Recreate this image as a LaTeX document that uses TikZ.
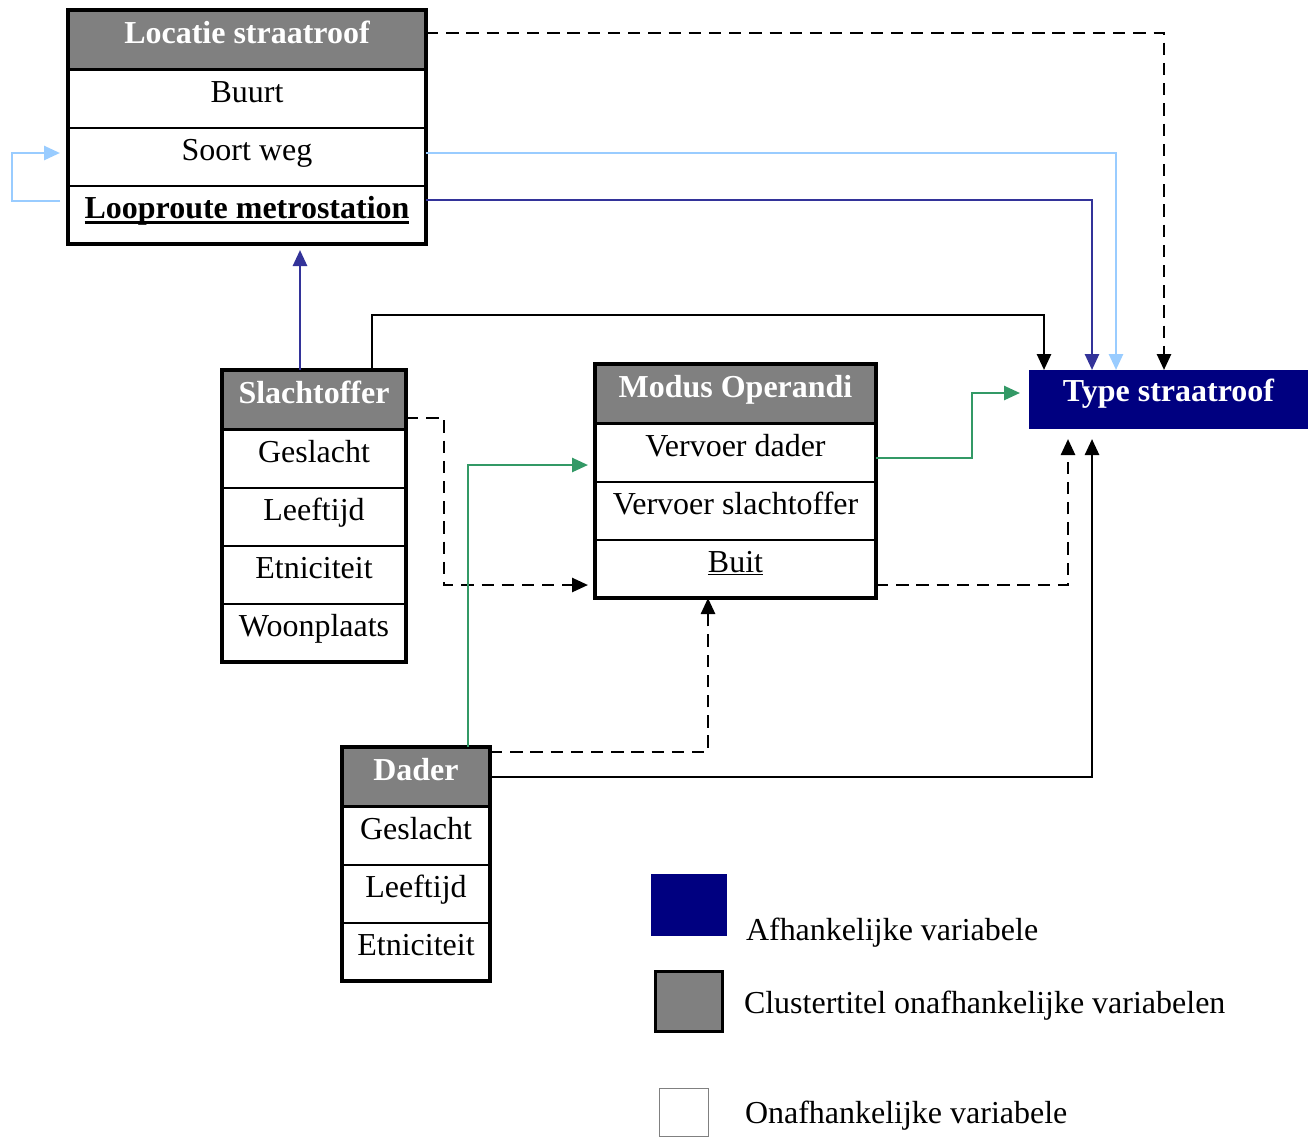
\documentclass[tikz,border=0pt]{standalone}
\usepackage{fontspec}
\setmainfont{Liberation Serif}
\usepackage{tikz}
\usetikzlibrary{arrows.meta,fit}
\definecolor{clgray}{HTML}{808080}
\definecolor{navy}{HTML}{000080}
\definecolor{dblue}{HTML}{333399}
\definecolor{lblue}{HTML}{99CCFF}
\definecolor{mgreen}{HTML}{339966}
\newcommand{\boldul}[1]{\setbox0\hbox{#1}\rlap{\rule[-3.2pt]{\wd0}{1.3pt}}\box0}
\tikzset{
    every node/.style={font=\fontsize{18.2}{21}\selectfont, inner sep=0, outer sep=0}
}
\tikzset{
    title/.style={draw, line width=2.2pt, fill=clgray, text=white,
    	font=\fontsize{18.2}{21}\selectfont\bfseries, text height=0.66cm, text depth=0.54cm},
    row/.style={draw, line width=1.2pt, fill=white, text height=0.64cm, text depth=0.52cm},
    frame/.style={draw, line width=2.2pt, inner sep=0},
    link/.style={line width=1.5pt, -{Triangle[length=0.32cm,width=0.28cm]}},
    dlink/.style={link, dash pattern=on 7pt off 4.5pt}
}

\begin{document}
\begin{tikzpicture}
	\useasboundingbox (0,0) rectangle (26.16,-22.74);

	% Locatie straatroof
	\node (loc) [title, minimum width=7.16cm] at (4.94,-0.80) {Locatie straatroof};
	\node (locbuurt) [row, minimum width=7.16cm] at (4.94,-1.98) {Buurt};
	\node (locweg) [row, minimum width=7.16cm] at (4.94,-3.14) {Soort weg};
	\node (locroute) [row, minimum width=7.16cm] at (4.94,-4.30) {\bfseries\boldul{Looproute metrostation}};
	\node (locframe) [frame, fit=(loc)(locroute)] {};

	% Slachtoffer
	\node (sl) [title, minimum width=3.68cm] at (6.28,-8.00) {Slachtoffer};
	\node (slgeslacht) [row, minimum width=3.68cm] at (6.28,-9.18) {Geslacht};
	\node (slleeftijd) [row, minimum width=3.68cm] at (6.28,-10.34) {Leeftijd};
	\node (sletniciteit) [row, minimum width=3.68cm] at (6.28,-11.50) {Etniciteit};
	\node (slwoonplaats) [row, minimum width=3.68cm] at (6.28,-12.66) {Woonplaats};
	\node (slframe) [frame, fit=(sl)(slwoonplaats)] {};

	% Modus Operandi
	\node (mo) [title, minimum width=5.62cm] at (14.71,-7.88) {Modus Operandi};
	\node (modader) [row, minimum width=5.62cm] at (14.71,-9.06) {Vervoer dader};
	\node (moslacht) [row, minimum width=5.62cm] at (14.71,-10.22) {Vervoer slachtoffer};
	\node (mobuit) [row, minimum width=5.62cm] at (14.71,-11.38) {\underline{Buit}};
	\node (moframe) [frame, fit=(mo)(mobuit)] {};

	% Dader
	\node (da) [title, minimum width=2.96cm] at (8.32,-15.54) {Dader};
	\node (dageslacht) [row, minimum width=2.96cm] at (8.32,-16.72) {Geslacht};
	\node (daleeftijd) [row, minimum width=2.96cm] at (8.32,-17.88) {Leeftijd};
	\node (daetniciteit) [row, minimum width=2.96cm] at (8.32,-19.04) {Etniciteit};
	\node (daframe) [frame, fit=(da)(daetniciteit)] {};

	% Type straatroof
	\node (type) [fill=navy, text=white, font=\fontsize{18.2}{21}\selectfont\bfseries,
		minimum width=5.58cm, text height=0.62cm, text depth=0.56cm] at (23.37,-7.99) {Type straatroof};

	% legend
	\node (lgdep) [fill=navy, minimum width=1.52cm, minimum height=1.24cm] at (13.78,-18.10) {};
	\node (lgclus) [draw, line width=2.2pt, fill=clgray, minimum width=1.34cm, minimum height=1.2cm] at (13.78,-20.03) {};
	\node (lgind) [draw=gray, line width=0.6pt, minimum width=0.98cm, minimum height=0.96cm] at (13.68,-22.25) {};
	\node (lgdeptext) [anchor=base west] at (14.92,-18.80) {Afhankelijke variabele};
	\node (lgclustext) [anchor=base west] at (14.88,-20.26) {Clustertitel onafhankelijke variabelen};
	\node (lgindtext) [anchor=base west] at (14.90,-22.46) {Onafhankelijke variabele};

	% connectors
	\draw [dlink] ([yshift=0.14cm]loc.east) -| ([xshift=-0.09cm]type.north);
	\draw [link, lblue] ([yshift=0.08cm]locweg.east) -| ([xshift=-1.05cm]type.north);
	\draw [link, dblue] ([yshift=0.30cm]locroute.east) -| ([xshift=-1.53cm]type.north);
	\draw [link, lblue, shorten <=0.16cm, shorten >=0.16cm] ([yshift=0.28cm]locroute.west) -- ++(-1.12,0) |- ([yshift=0.08cm]locweg.west);
	\draw [link, dblue, shorten >=0.12cm] ([xshift=-0.28cm]sl.north) -- ([xshift=-0.28cm]sl.north |- locframe.south);
	\draw [link] ([xshift=1.16cm]sl.north) -- ++(0,1.1) -| ([xshift=-2.49cm]type.north);
	\draw [dlink, shorten >=0.14cm] ([yshift=-0.36cm]sl.east) -- ++(0.76,0) |- ([yshift=-0.32cm]mobuit.west);
	\draw [link, mgreen, shorten >=0.14cm] ([xshift=1.04cm]da.north) |- ([yshift=-0.24cm]modader.west);
	\draw [link, mgreen, shorten >=0.18cm] ([yshift=-0.10cm]modader.east) -- ++(1.92,0) |- ([yshift=0.13cm]type.west);
	\draw [dlink, shorten >=0.2cm] ([yshift=-0.32cm]mobuit.east) -| ([xshift=-2.01cm]type.south);
	\draw [dlink] ([yshift=0.50cm]da.east) -| ([xshift=-0.55cm]moframe.south);
	\draw [link, shorten >=0.2cm] (da.east) -| ([xshift=-1.53cm]type.south);
\end{tikzpicture}
\end{document}
